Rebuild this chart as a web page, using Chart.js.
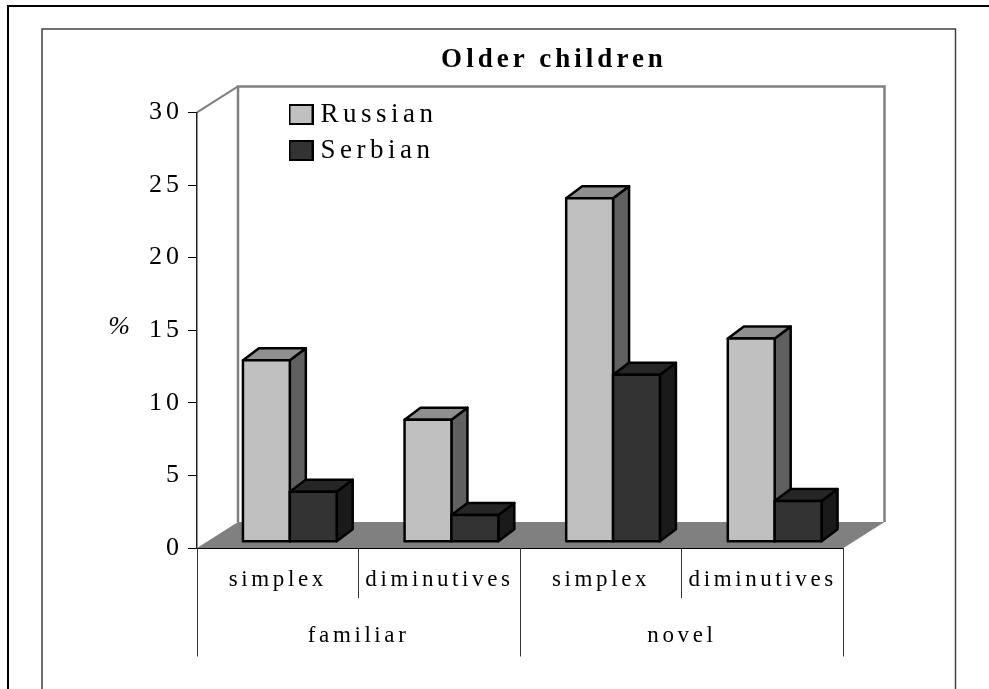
<!DOCTYPE html>
<html><head><meta charset="utf-8">
<style>html,body{margin:0;padding:0;background:#fff}canvas{display:block}</style>
<script src="https://cdn.jsdelivr.net/npm/chart.js@4"></script>
</head><body><canvas id="c" width="989" height="689"></canvas>
<script>
const categories = ['simplex','diminutives','simplex','diminutives'];
const groups = ['familiar','novel'];
const russian = [12.5,8.4,23.65,14.0];
const serbian = [3.44,1.84,11.5,2.8];
const yTicks = [0,5,10,15,20,25,30];

const FONT = '"Liberation Serif"';
const DEPTH = {x:41,y:-26}, BAR_OFF = {x:12,y:-6.3}, BAR_DEPTH = {x:16,y:-12};
const SHADES = {'#c0c0c0':{top:'#8f8f8f',side:'#606060'},'#333333':{top:'#262626',side:'#1a1a1a'}};

function legendSwatch(fill){
  const c=document.createElement('canvas');c.width=25;c.height=21;
  const x=c.getContext('2d');x.fillStyle=fill;x.fillRect(0,0,25,21);
  x.strokeStyle='#000';x.lineWidth=2;x.strokeRect(1,1,23,19);return c;
}
function poly(ctx,pts,fill,stroke,lw){
  ctx.beginPath();pts.forEach((p,i)=>i?ctx.lineTo(p[0],p[1]):ctx.moveTo(p[0],p[1]));ctx.closePath();
  if(fill){ctx.fillStyle=fill;ctx.fill();}
  if(stroke){ctx.strokeStyle=stroke;ctx.lineWidth=lw;ctx.lineJoin='round';ctx.stroke();}
}
const SPACING={title:4,legend:4.5,x:3.6,y:4};
const scene={
  id:'scene',
  afterLayout(chart){
    const l=chart.legend;l.left=286;l.right=560;l.top=92;l.bottom=400;
    const t=chart.titleBlock;t.left=0;t.right=1108;t.top=34;t.bottom=68;
    const wrap=(o,m,s)=>{if(o['__'+m])return;o['__'+m]=1;const d=o[m].bind(o);o[m]=function(a){chart.ctx.letterSpacing=s+'px';d(a);chart.ctx.letterSpacing='0px';};};
    wrap(l,'draw',SPACING.legend);wrap(t,'draw',SPACING.title);
    wrap(chart.scales.x,'drawLabels',SPACING.x);wrap(chart.scales.y,'drawLabels',SPACING.y);
  },
  beforeDraw(chart){
    const ctx=chart.ctx,a=chart.chartArea;
    ctx.save();
    ctx.fillStyle='#fff';ctx.fillRect(0,0,989,689);
    ctx.strokeStyle='#000';ctx.lineWidth=2;
    ctx.beginPath();ctx.moveTo(8,689);ctx.lineTo(8,6);ctx.lineTo(989,6);ctx.stroke();
    ctx.strokeStyle='#404040';ctx.lineWidth=1.5;
    ctx.beginPath();ctx.moveTo(42,689);ctx.lineTo(42,29);ctx.lineTo(955.5,29);ctx.lineTo(955.5,689);ctx.stroke();
    const bx=a.left+DEPTH.x,ty=a.top+DEPTH.y,rx=a.right+DEPTH.x,by=a.bottom+DEPTH.y;
    poly(ctx,[[a.left,a.bottom],[bx,by],[rx,by],[a.right,a.bottom]],'#808080');
    ctx.strokeStyle='#808080';ctx.lineWidth=2.5;
    ctx.beginPath();ctx.moveTo(bx,by);ctx.lineTo(bx,ty);ctx.lineTo(rx,ty);ctx.lineTo(rx,by);ctx.stroke();
    ctx.lineWidth=2;ctx.beginPath();ctx.moveTo(a.left,a.top);ctx.lineTo(bx,ty);ctx.stroke();
    ctx.restore();
  },
  beforeDatasetDraw(){return false;},
  afterDatasetsDraw(chart){
    const ctx=chart.ctx,xs=chart.scales.x;
    ctx.save();
    categories.forEach((_,i)=>{
      chart.data.datasets.forEach((ds,k)=>{
        const el=chart.getDatasetMeta(k).data[i];
        const L=el.x-el.width/2+BAR_OFF.x,R=el.x+el.width/2+BAR_OFF.x,T=el.y+BAR_OFF.y,B=el.base+BAR_OFF.y;
        const dx=BAR_DEPTH.x,dy=BAR_DEPTH.y,sh=SHADES[ds.backgroundColor];
        poly(ctx,[[R,T],[R+dx,T+dy],[R+dx,B+dy],[R,B]],sh.side,'#000',2.5);
        poly(ctx,[[L,T],[L+dx,T+dy],[R+dx,T+dy],[R,T]],sh.top,'#000',2.5);
        poly(ctx,[[L,T],[R,T],[R,B],[L,B]],ds.backgroundColor,'#000',2.5);
      });
    });
    const a=chart.chartArea,step=xs.getPixelForValue(1)-xs.getPixelForValue(0);
    ctx.strokeStyle='#333';ctx.lineWidth=1;
    const yEnd=656.5;
    [0,2,4].forEach(n=>{const x=Math.floor(xs.getPixelForValue(0)-step/2+n*step+0.01)+0.5;
      ctx.beginPath();ctx.moveTo(x,a.bottom);ctx.lineTo(x,yEnd);ctx.stroke();});
    ctx.fillStyle='#000';ctx.font='23px '+FONT;ctx.textAlign='center';ctx.textBaseline='middle';
    ctx.letterSpacing=SPACING.x+'px';
    groups.forEach((g,n)=>ctx.fillText(g,xs.getPixelForValue(0)+step/2+n*2*step,636));
    ctx.letterSpacing='0px';
    ctx.font='italic 26px '+FONT;
    ctx.fillText('%',119,327);
    ctx.restore();
  }
};
new Chart(document.getElementById('c'),{
  type:'bar',
  data:{labels:categories,datasets:[
    {label:'Russian',data:russian,backgroundColor:'#c0c0c0',borderColor:'#000',borderWidth:2,categoryPercentage:0.58,barPercentage:1},
    {label:'Serbian',data:serbian,backgroundColor:'#333333',borderColor:'#000',borderWidth:2,categoryPercentage:0.58,barPercentage:1}
  ]},
  options:{
    responsive:false,animation:false,devicePixelRatio:1,
    layout:{padding:{left:0,right:145.5,top:60,bottom:0}},
    plugins:{
      tooltip:{enabled:false},
      title:{display:true,text:'Older children',color:'#000',font:{family:FONT,size:27,weight:'bold'},padding:{top:10,bottom:10}},
      legend:{display:true,position:'chartArea',align:'start',
        labels:{usePointStyle:true,pointStyleWidth:12,padding:9,color:'#000',font:{family:FONT,size:27},
          generateLabels(chart){
            const items=Chart.defaults.plugins.legend.labels.generateLabels(chart);
            items.forEach(it=>{it.pointStyle=legendSwatch(it.fillStyle);});
            return items;
          }}}
    },
    scales:{
      x:{type:'category',offset:true,
        grid:{offset:true,drawOnChartArea:false,drawTicks:true,tickLength:50,color:'#333',lineWidth:1},
        border:{display:true,color:'#000',width:1},
        ticks:{color:'#000',font:{family:FONT,size:23},padding:-32,maxRotation:0,autoSkip:false},
        afterFit(s){s.height=141;}
      },
      y:{min:0,max:30,
        grid:{drawOnChartArea:false,drawTicks:true,tickLength:9,color:'#000',lineWidth:1},
        border:{display:true,color:'#222',width:1.5},
        afterBuildTicks(s){s.ticks=yTicks.map(v=>({value:v}));},
        ticks:{color:'#000',font:{family:FONT,size:26},padding:5},
        afterFit(s){s.width=197;}
      }
    }
  },
  plugins:[scene]
});
</script></body></html>
